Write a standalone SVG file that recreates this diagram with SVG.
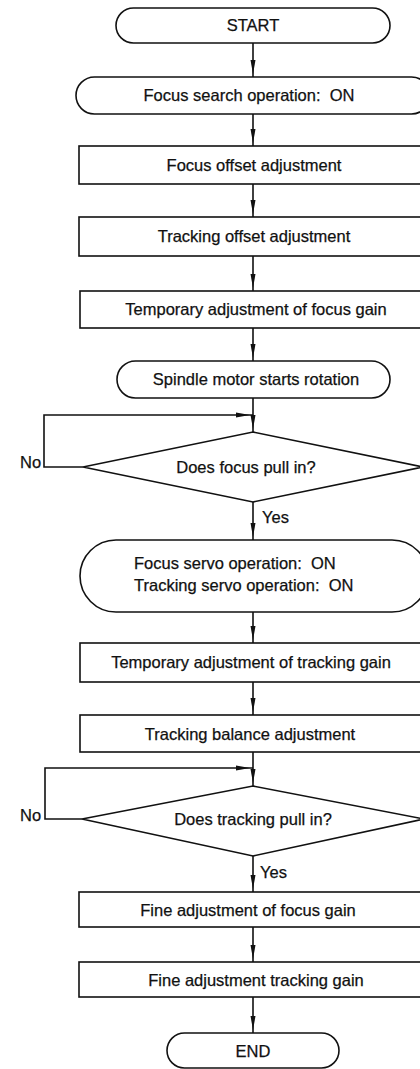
<svg xmlns="http://www.w3.org/2000/svg" width="420" height="1069" viewBox="0 0 420 1069">
<style>
.s{fill:#fff;stroke:#111;stroke-width:1.6}
.c{fill:none;stroke:#111;stroke-width:1.6}
text{font-family:"Liberation Sans",Arial,sans-serif;font-size:16.5px;fill:#111;stroke:#111;stroke-width:0.25;white-space:pre}
.m{text-anchor:middle}
</style>
<defs>
<marker id="ah" markerUnits="userSpaceOnUse" viewBox="0 -3 20 6" markerWidth="20" markerHeight="6" refX="17" refY="0" orient="auto">
<path d="M0,-2.5 L14,0 L0,2.5 z" fill="#111"/>
</marker>
</defs>
<rect width="420" height="1069" fill="#fff"/>
<g id="connectors">
<line class="c" x1="253" y1="43" x2="253" y2="77" marker-end="url(#ah)"/>
<line class="c" x1="253" y1="114" x2="253" y2="146" marker-end="url(#ah)"/>
<line class="c" x1="253" y1="184" x2="253" y2="217" marker-end="url(#ah)"/>
<line class="c" x1="253" y1="256" x2="253" y2="291" marker-end="url(#ah)"/>
<line class="c" x1="253" y1="328" x2="253" y2="361" marker-end="url(#ah)"/>
<line class="c" x1="253" y1="398" x2="253" y2="432" marker-end="url(#ah)"/>
<polyline class="c" points="83,467 44,467 44,415 253,415" marker-end="url(#ah)"/>
<line class="c" x1="253" y1="502" x2="253" y2="540" marker-end="url(#ah)"/>
<line class="c" x1="253" y1="612" x2="253" y2="643" marker-end="url(#ah)"/>
<line class="c" x1="253" y1="682" x2="253" y2="715" marker-end="url(#ah)"/>
<line class="c" x1="253" y1="752" x2="253" y2="786" marker-end="url(#ah)"/>
<polyline class="c" points="82,819 45,819 45,768 253,768" marker-end="url(#ah)"/>
<line class="c" x1="253" y1="856" x2="253" y2="892" marker-end="url(#ah)"/>
<line class="c" x1="253" y1="927" x2="253" y2="962" marker-end="url(#ah)"/>
<line class="c" x1="253" y1="997" x2="253" y2="1033" marker-end="url(#ah)"/>
<text x="20" y="468">No</text>
<text x="262" y="523">Yes</text>
<text x="20" y="821">No</text>
<text x="260" y="878">Yes</text>
</g>
<g id="start">
<rect class="s" x="116" y="8" width="274" height="35" rx="17.5"/>
<text class="m" x="253" y="31">START</text>
</g>
<g id="focus-search">
<rect class="s" x="76" y="77" width="354" height="37" rx="18.5"/>
<text class="m" x="249" y="101">Focus search operation:  ON</text>
</g>
<g id="focus-offset">
<rect class="s" x="79" y="146" width="350" height="38"/>
<text class="m" x="254" y="171">Focus offset adjustment</text>
</g>
<g id="tracking-offset">
<rect class="s" x="79" y="217" width="350" height="39"/>
<text class="m" x="254" y="242">Tracking offset adjustment</text>
</g>
<g id="temp-focus-gain">
<rect class="s" x="80" y="291" width="350" height="37"/>
<text class="m" x="256" y="315">Temporary adjustment of focus gain</text>
</g>
<g id="spindle">
<rect class="s" x="117" y="361" width="273" height="37" rx="18.5"/>
<text class="m" x="256" y="385">Spindle motor starts rotation</text>
</g>
<g id="focus-pull-in">
<polygon class="s" points="253,432 423,467 253,502 83,467"/>
<text class="m" x="246" y="473">Does focus pull in?</text>
</g>
<g id="servo-on">
<rect class="s" x="80" y="540" width="348" height="72" rx="36"/>
<text x="134" y="569">Focus servo operation:  ON</text>
<text x="134" y="591">Tracking servo operation:  ON</text>
</g>
<g id="temp-tracking-gain">
<rect class="s" x="80" y="643" width="350" height="39"/>
<text class="m" x="251" y="668">Temporary adjustment of tracking gain</text>
</g>
<g id="tracking-balance">
<rect class="s" x="80" y="715" width="350" height="37"/>
<text class="m" x="250" y="740">Tracking balance adjustment</text>
</g>
<g id="tracking-pull-in">
<polygon class="s" points="253,786 424,819 253,856 82,819"/>
<text class="m" x="253" y="825">Does tracking pull in?</text>
</g>
<g id="fine-focus-gain">
<rect class="s" x="79" y="892" width="350" height="35"/>
<text class="m" x="248" y="916">Fine adjustment of focus gain</text>
</g>
<g id="fine-tracking-gain">
<rect class="s" x="79" y="962" width="350" height="35"/>
<text class="m" x="256" y="986">Fine adjustment tracking gain</text>
</g>
<g id="end">
<rect class="s" x="167" y="1033" width="172" height="35" rx="17.5"/>
<text class="m" x="253" y="1057">END</text>
</g>
</svg>
